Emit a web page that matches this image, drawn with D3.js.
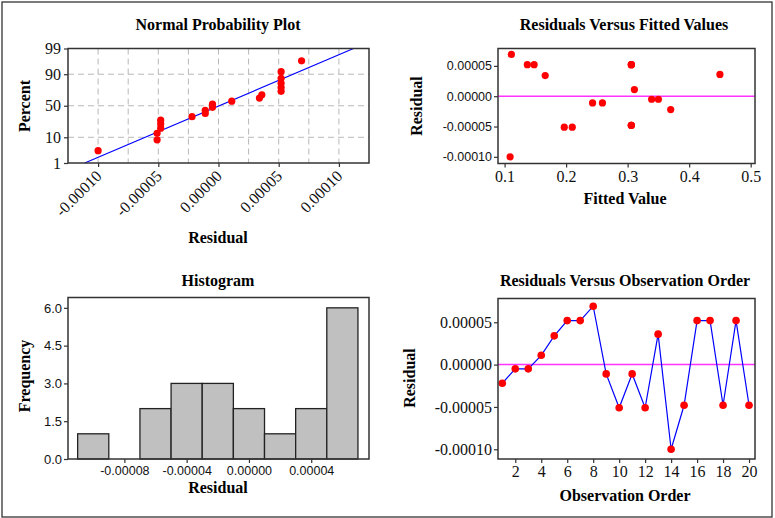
<!DOCTYPE html>
<html>
<head>
<meta charset="utf-8">
<script src="https://cdn.jsdelivr.net/npm/d3@7"></script>
<style>
  body { margin: 0; background: #fff; }
  svg { display: block; }
</style>
</head>
<body>
<div id="chart"></div>
<script>
// residuals by observation order
const obsOrder = [1, 2, 3, 4, 5, 6, 7, 8, 9, 10, 11, 12, 13, 14, 15, 16, 17, 18, 19, 20];
const residuals = [-0.000022, -0.000005, -0.000005, 0.000011, 0.000034, 0.000052, 0.000052, 0.000069,
  -0.000011, -0.000051, -0.000011, -0.000051, 0.000036, -0.000100, -0.000048, 0.000052,
  0.000052, -0.000048, 0.000052, -0.000048];
const fittedValues = [0.370, 0.339, 0.350, 0.311, 0.166, 0.137, 0.148, 0.111, 0.243, 0.197,
  0.259, 0.210, 0.450, 0.109, 0.306, 0.306, 0.306, 0.306, 0.306, 0.306];

// normal probability plot percents (sorted residuals)
const nppPercent = [3.4, 8.3, 13.2, 18.1, 23.0, 27.9, 32.8, 37.7, 42.6, 47.5,
  52.5, 57.4, 62.3, 67.2, 72.1, 77.0, 81.9, 86.8, 91.7, 96.6];

// histogram
const binLower = [-0.00011, -0.00009, -0.00007, -0.00005, -0.00003, -0.00001, 0.00001, 0.00003, 0.00005];
const binUpper = [-0.00009, -0.00007, -0.00005, -0.00003, -0.00001, 0.00001, 0.00003, 0.00005, 0.00007];
const histCounts = [1, 0, 2, 3, 3, 2, 1, 2, 6];

// ticks
const nppPctTicks = [1, 10, 50, 90, 99];
const nppXTicks = [-0.0001, -0.00005, 0, 0.00005, 0.0001];
const nppXGrid = [-0.0001, -0.000075, -0.00005, -0.000025, 0, 0.000025, 0.00005, 0.000075, 0.0001];
const resTicks = [-0.0001, -0.00005, 0, 0.00005];
const fitTicks = [0.1, 0.2, 0.3, 0.4, 0.5];
const histXTicks = [-0.00008, -0.00004, 0, 0.00004];
const histYTicks = [0, 1.5, 3, 4.5, 6];
const obsTicks = [2, 4, 6, 8, 10, 12, 14, 16, 18, 20];

const SERIF = "'Liberation Serif', 'Times New Roman', serif";
const SANS = "'Liberation Sans', Arial, sans-serif";

// inverse normal cdf (Acklam)
function normInv(p) {
  const a = [-3.969683028665376e+01, 2.209460984245205e+02, -2.759285104469687e+02, 1.383577518672690e+02, -3.066479806614716e+01, 2.506628277459239e+00];
  const b = [-5.447609879822406e+01, 1.615858368580409e+02, -1.556989798598866e+02, 6.680131188771972e+01, -1.328068155288572e+01];
  const c = [-7.784894002430293e-03, -3.223964580411365e-01, -2.400758277161838e+00, -2.549671010466049e+00, 4.374664141464968e+00, 2.938163982698783e+00];
  const d = [7.784695709041462e-03, 3.224671290700398e-01, 2.445134137142996e+00, 3.754408661907416e+00];
  const pl = 0.02425;
  if (p < pl) {
    const q = Math.sqrt(-2 * Math.log(p));
    return (((((c[0]*q+c[1])*q+c[2])*q+c[3])*q+c[4])*q+c[5]) / ((((d[0]*q+d[1])*q+d[2])*q+d[3])*q+1);
  }
  if (p <= 1 - pl) {
    const q = p - 0.5, r = q * q;
    return (((((a[0]*r+a[1])*r+a[2])*r+a[3])*r+a[4])*r+a[5])*q / (((((b[0]*r+b[1])*r+b[2])*r+b[3])*r+b[4])*r+1);
  }
  const q = Math.sqrt(-2 * Math.log(1 - p));
  return -(((((c[0]*q+c[1])*q+c[2])*q+c[3])*q+c[4])*q+c[5]) / ((((d[0]*q+d[1])*q+d[2])*q+d[3])*q+1);
}

const width = 775, height = 518;
const svg = d3.select("#chart").append("svg")
  .attr("width", width)
  .attr("height", height);

svg.append("rect")
  .attr("x", 2).attr("y", 2)
  .attr("width", 770).attr("height", 515)
  .attr("fill", "#fff")
  .attr("stroke", "#333")
  .attr("stroke-width", 1.3);

function styleAxis(g, font, size) {
  g.select(".domain").remove();
  g.selectAll(".tick line").attr("stroke", "#333").attr("stroke-width", 1.2);
  g.selectAll(".tick text")
    .attr("fill", "#111")
    .style("font-family", font)
    .style("font-size", size + "px");
}

function frame(x0, y0, x1, y1) {
  svg.append("rect")
    .attr("x", x0).attr("y", y0)
    .attr("width", x1 - x0).attr("height", y1 - y0)
    .attr("fill", "none")
    .attr("stroke", "#333")
    .attr("stroke-width", 1.5);
}

function title(txt, x, y) {
  svg.append("text")
    .attr("x", x).attr("y", y)
    .attr("text-anchor", "middle")
    .style("font-family", SERIF)
    .style("font-weight", "bold")
    .style("font-size", "16px")
    .text(txt);
}

function yLabel(txt, x, y) {
  svg.append("text")
    .attr("transform", `translate(${x},${y}) rotate(-90)`)
    .attr("text-anchor", "middle")
    .style("font-family", SERIF)
    .style("font-weight", "bold")
    .style("font-size", "16px")
    .text(txt);
}

const fmt5 = d => d.toFixed(5);

// ---------- Normal Probability Plot ----------
(function() {
  const L = 68, R = 369, T = 48.5, B = 163;
  const x = d3.scaleLinear().domain([-0.000125, 0.000125]).range([L, R]);
  const z = d3.scaleLinear().domain([normInv(0.01), normInv(0.99)]).range([B, T]);
  const y = p => z(normInv(p / 100));

  const grid = svg.append("g")
    .attr("stroke", "#b8b8b8")
    .attr("stroke-dasharray", "6,4")
    .attr("stroke-width", 1);
  grid.selectAll("line.v").data(nppXGrid).join("line")
    .attr("class", "v")
    .attr("x1", d => x(d)).attr("x2", d => x(d))
    .attr("y1", T).attr("y2", B);
  grid.selectAll("line.h").data([10, 50, 90]).join("line")
    .attr("class", "h")
    .attr("x1", L).attr("x2", R)
    .attr("y1", d => y(d)).attr("y2", d => y(d));

  // fitted line
  const mu = d3.mean(residuals), sd = d3.deviation(residuals);
  svg.append("path")
    .datum([1, 99])
    .attr("fill", "none")
    .attr("stroke", "#0000ff")
    .attr("stroke-width", 1.2)
    .attr("d", d3.line().x(p => x(mu + sd * normInv(p / 100))).y(p => y(p)));

  const sorted = d3.sort(residuals);
  svg.append("g").selectAll("circle").data(sorted).join("circle")
    .attr("cx", d => x(d))
    .attr("cy", (d, i) => y(nppPercent[i]))
    .attr("r", 3.6)
    .attr("fill", "#ff0000");

  frame(L, T, R, B);

  const ya = svg.append("g").attr("transform", `translate(${L},0)`)
    .call(d3.axisLeft(d3.scaleLinear().domain([normInv(0.01), normInv(0.99)]).range([B, T]))
      .tickValues(nppPctTicks.map(p => normInv(p / 100)))
      .tickFormat((d, i) => nppPctTicks[i])
      .tickSize(4).tickPadding(3));
  styleAxis(ya, SERIF, 16);

  const xa = svg.append("g").attr("transform", `translate(0,${B})`)
    .call(d3.axisBottom(x).tickValues(nppXTicks).tickFormat(fmt5).tickSize(4));
  styleAxis(xa, SERIF, 16);
  xa.selectAll(".tick text")
    .attr("text-anchor", "end")
    .attr("dy", null)
    .attr("y", 0)
    .attr("transform", "translate(4,14) rotate(-45)");

  title("Normal Probability Plot", 218, 30);
  svg.append("text").attr("x", 218).attr("y", 243)
    .attr("text-anchor", "middle")
    .style("font-family", SERIF).style("font-weight", "bold").style("font-size", "16px")
    .text("Residual");
  yLabel("Percent", 30, 106);
})();

// ---------- Residuals Versus Fitted Values ----------
(function() {
  const L = 498, R = 755, T = 48.5, B = 163.5;
  const x = d3.scaleLinear().domain([0.0893, 0.507]).range([L, R]);
  const y = d3.scaleLinear().domain([-0.000111, 0.0000787]).range([B, T]);

  svg.append("line")
    .attr("x1", L).attr("x2", R)
    .attr("y1", y(0)).attr("y2", y(0))
    .attr("stroke", "#ff33ff")
    .attr("stroke-width", 1.5);

  svg.append("g").selectAll("circle").data(residuals).join("circle")
    .attr("cx", (d, i) => x(fittedValues[i]))
    .attr("cy", d => y(d))
    .attr("r", 3.6)
    .attr("fill", "#ff0000");

  frame(L, T, R, B);

  const ya = svg.append("g").attr("transform", `translate(${L},0)`)
    .call(d3.axisLeft(y).tickValues(resTicks).tickFormat(fmt5).tickSize(4).tickPadding(2));
  styleAxis(ya, SANS, 12.5);

  const xa = svg.append("g").attr("transform", `translate(0,${B})`)
    .call(d3.axisBottom(x).tickValues(fitTicks).tickFormat(d3.format(".1f")).tickSize(4).tickPadding(3));
  styleAxis(xa, SERIF, 16);

  title("Residuals Versus Fitted Values", 624, 30);
  svg.append("text").attr("x", 625).attr("y", 204)
    .attr("text-anchor", "middle")
    .style("font-family", SERIF).style("font-weight", "bold").style("font-size", "16px")
    .text("Fitted Value");
  yLabel("Residual", 422, 106);
})();

// ---------- Histogram ----------
(function() {
  const L = 68, R = 369, T = 297.5, B = 459;
  const x = d3.scaleLinear().domain([-0.0001162, 0.0000771]).range([L, R]);
  const y = d3.scaleLinear().domain([0, 6.41]).range([B, T]);

  svg.append("g").selectAll("rect").data(histCounts).join("rect")
    .attr("x", (d, i) => x(binLower[i]))
    .attr("width", (d, i) => x(binUpper[i]) - x(binLower[i]))
    .attr("y", d => y(d))
    .attr("height", d => B - y(d))
    .attr("fill", "#c0c0c0")
    .attr("stroke", "#222")
    .attr("stroke-width", 1.3);

  frame(L, T, R, B);

  const ya = svg.append("g").attr("transform", `translate(${L},0)`)
    .call(d3.axisLeft(y).tickValues(histYTicks).tickFormat(d => d.toFixed(1)).tickSize(4).tickPadding(2));
  styleAxis(ya, SANS, 13);

  const xa = svg.append("g").attr("transform", `translate(0,${B})`)
    .call(d3.axisBottom(x).tickValues(histXTicks).tickFormat(fmt5).tickSize(4).tickPadding(3));
  styleAxis(xa, SANS, 12.5);

  title("Histogram", 218, 286);
  svg.append("text").attr("x", 218).attr("y", 493)
    .attr("text-anchor", "middle")
    .style("font-family", SERIF).style("font-weight", "bold").style("font-size", "16px")
    .text("Residual");
  yLabel("Frequency", 30, 376);
})();

// ---------- Residuals Versus Observation Order ----------
(function() {
  const L = 498, R = 755, T = 298.5, B = 459;
  const x = d3.scaleLinear().domain([0.67, 20.46]).range([L, R]);
  const y = d3.scaleLinear().domain([-0.0001115, 0.0000781]).range([B, T]);

  svg.append("line")
    .attr("x1", L).attr("x2", R)
    .attr("y1", y(0)).attr("y2", y(0))
    .attr("stroke", "#ff33ff")
    .attr("stroke-width", 1.5);

  svg.append("path")
    .datum(residuals)
    .attr("fill", "none")
    .attr("stroke", "#0000ff")
    .attr("stroke-width", 1.2)
    .attr("d", d3.line().x((d, i) => x(obsOrder[i])).y(d => y(d)));

  svg.append("g").selectAll("circle").data(residuals).join("circle")
    .attr("cx", (d, i) => x(obsOrder[i]))
    .attr("cy", d => y(d))
    .attr("r", 3.8)
    .attr("fill", "#ff0000");

  frame(L, T, R, B);

  const ya = svg.append("g").attr("transform", `translate(${L},0)`)
    .call(d3.axisLeft(y).tickValues(resTicks).tickFormat(fmt5).tickSize(4).tickPadding(2));
  styleAxis(ya, SERIF, 16);

  const xa = svg.append("g").attr("transform", `translate(0,${B})`)
    .call(d3.axisBottom(x).tickValues(obsTicks).tickFormat(d3.format("d")).tickSize(4).tickPadding(3));
  styleAxis(xa, SERIF, 16);

  title("Residuals Versus Observation Order", 625, 286);
  svg.append("text").attr("x", 625).attr("y", 501)
    .attr("text-anchor", "middle")
    .style("font-family", SERIF).style("font-weight", "bold").style("font-size", "16px")
    .text("Observation Order");
  yLabel("Residual", 415, 378);
})();
</script>
</body>
</html>
